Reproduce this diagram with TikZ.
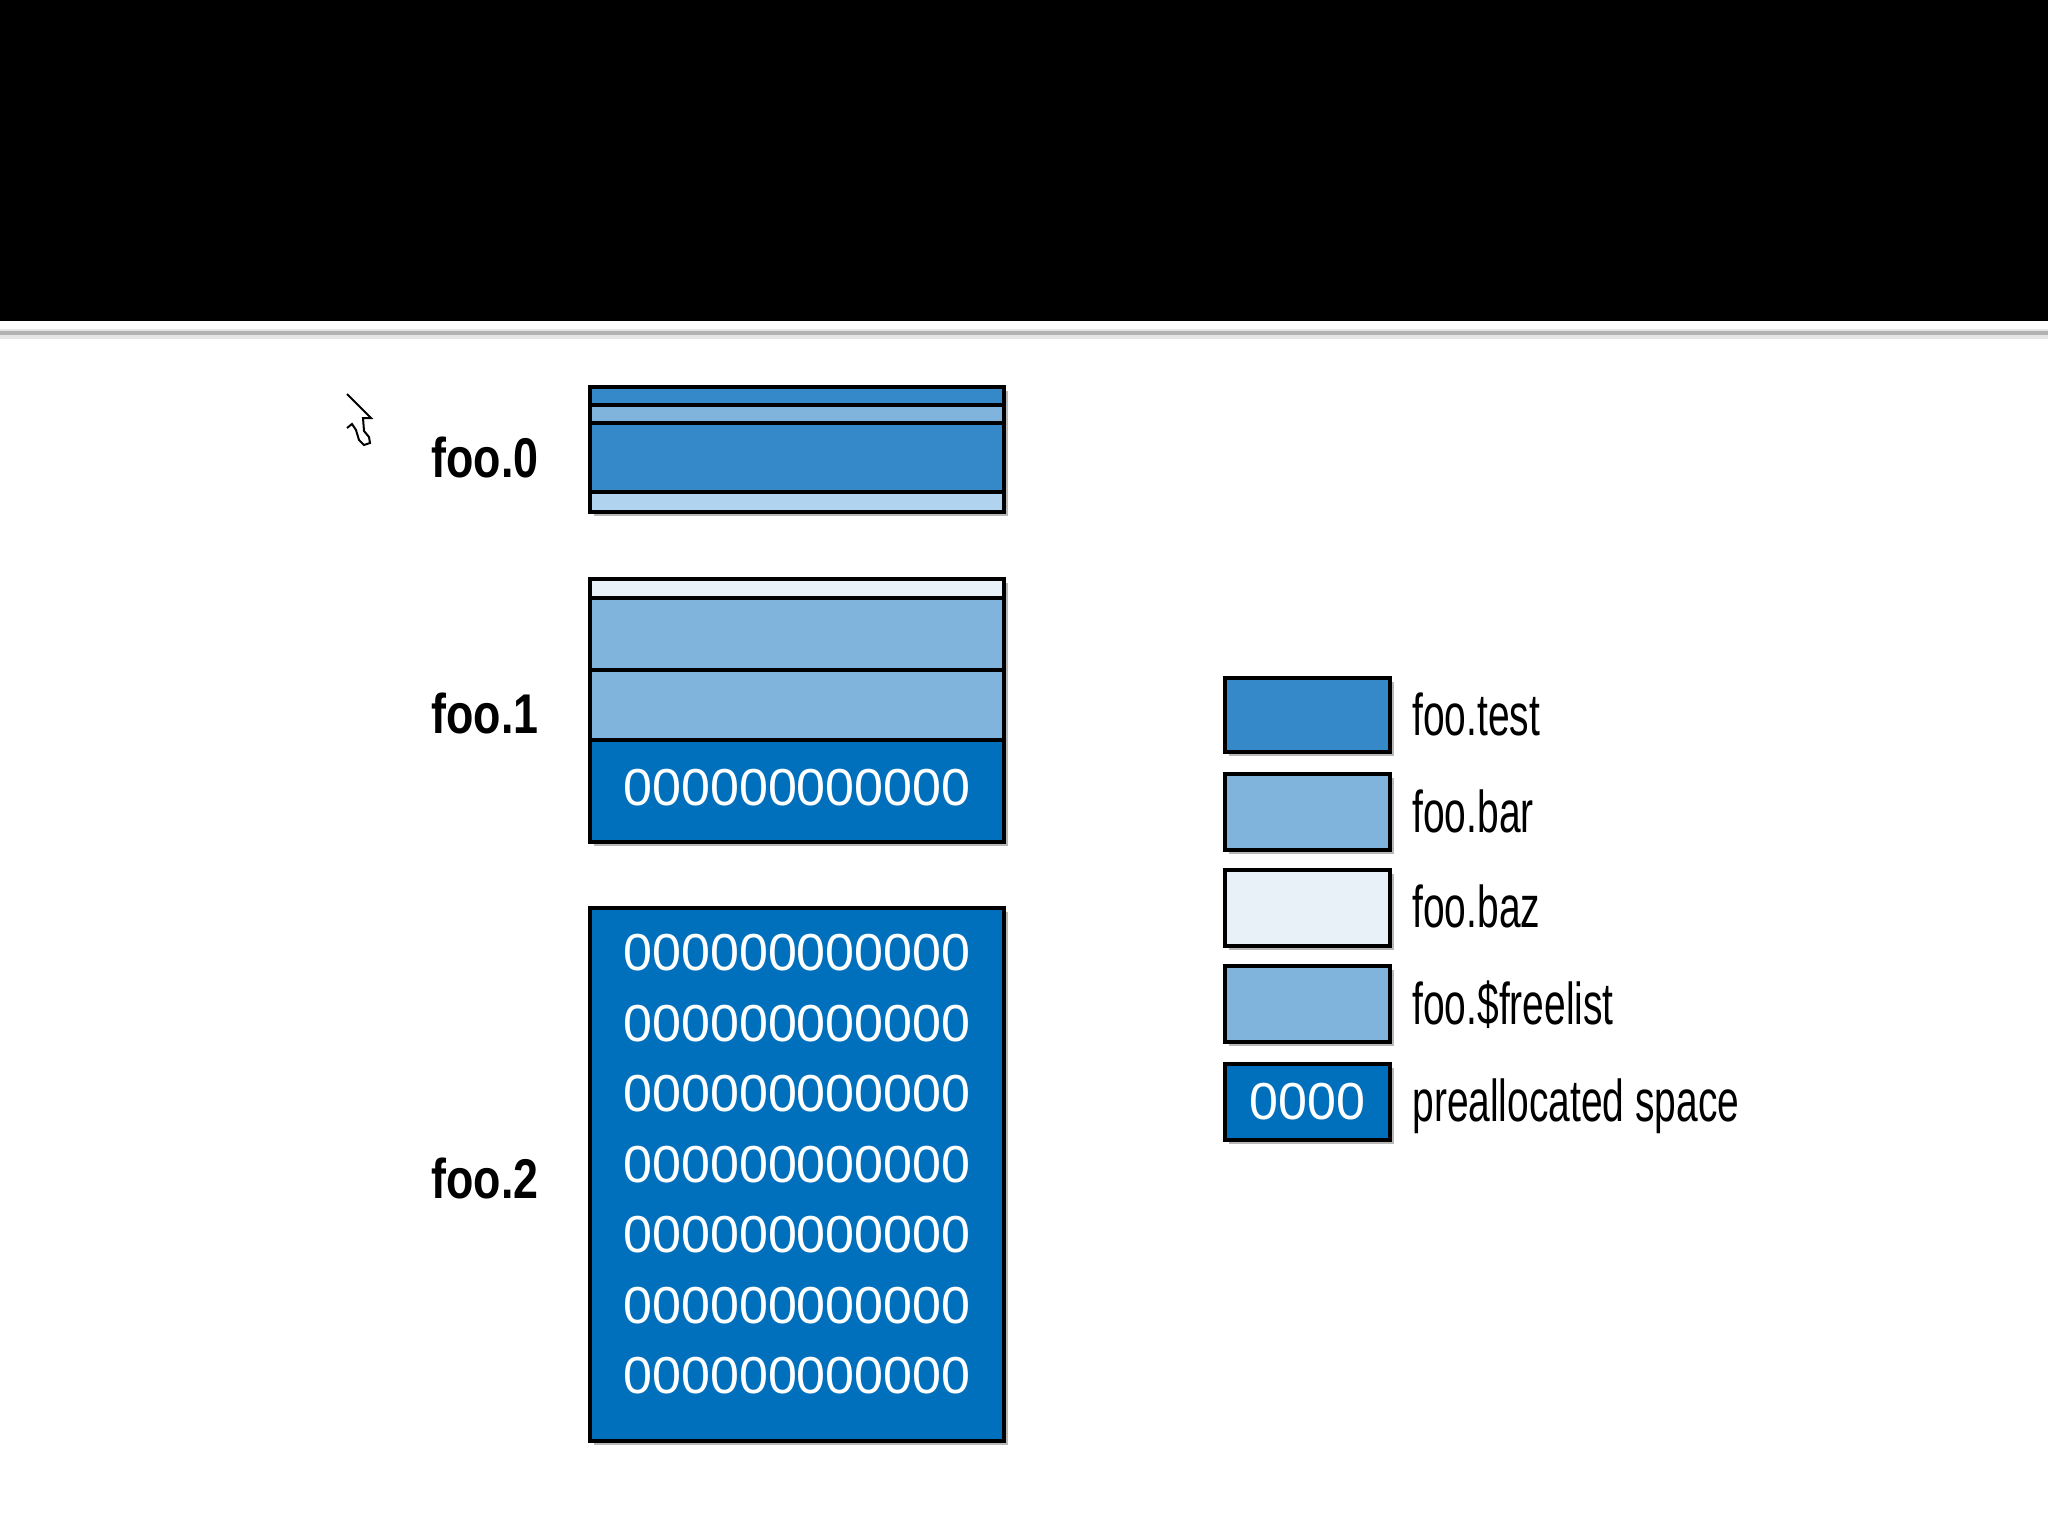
\documentclass[tikz,border=0pt]{standalone}
\usepackage{fontspec}
\setmainfont{Liberation Sans}
\newfontfamily\labfont[FakeStretch=0.8]{Liberation Sans}
\newfontfamily\legfont[FakeStretch=0.66]{Liberation Sans}
\newfontfamily\zerofont[FakeStretch=1.0]{Liberation Sans}
\definecolor{ctest}{HTML}{3589C9}
\definecolor{cbar}{HTML}{80B4DC}
\definecolor{cbaz}{HTML}{E8F0F8}
\definecolor{cpre}{HTML}{0070BD}
\definecolor{clight}{HTML}{B0D4F0}
\definecolor{cshadow}{HTML}{B8B8B8}
\tikzset{
  band/.style={draw=black, line width=1.8pt},
  outerbox/.style={draw=black, line width=2.1pt},
  shadowbox/.style={fill=cshadow},
  filelabel/.style={font=\labfont\bfseries\fontsize{28}{30}\selectfont, anchor=west, inner sep=0pt},
  legendtext/.style={font=\legfont\fontsize{29.5}{31}\selectfont, anchor=base west, inner sep=0pt},
  zeros/.style={font=\zerofont\fontsize{26}{28}\selectfont, text=white, inner sep=0pt},
}
\begin{document}
\begin{tikzpicture}[x=0.5pt,y=-0.5pt]
\useasboundingbox (0,0) rectangle (2048,1536);
\fill[white] (0,0) rectangle (2048,1536);
% title band
\fill[black] (0,0) rectangle (2048,321);
\fill[gray!20] (0,329) rectangle (2048,339);
\fill[gray!60] (0,331) rectangle (2048,335);

% cursor
\draw[line width=1pt, line join=miter] (347,394) -- (371,418) -- (363,418) -- (364,431) -- (369,437) -- (370,443) -- (364,445) -- (359,440) -- (356,430) -- (352,424) -- (347,428);

% ---------- foo.0 ----------
\fill[shadowbox] (594,391) rectangle (1008,516);
\filldraw[band, fill=ctest]  (590,387) rectangle (1004,405);
\filldraw[band, fill=cbar]   (590,405) rectangle (1004,423);
\filldraw[band, fill=ctest]  (590,423) rectangle (1004,492);
\filldraw[band, fill=clight] (590,492) rectangle (1004,512);
\draw[outerbox] (590,387) rectangle (1004,512);
\node[filelabel] (l0) at (431,457) {foo.0};

% ---------- foo.1 ----------
\fill[shadowbox] (594,583) rectangle (1008,846);
\filldraw[band, fill=cbaz] (590,579) rectangle (1004,598);
\filldraw[band, fill=cbar] (590,598) rectangle (1004,670);
\filldraw[band, fill=cbar] (590,670) rectangle (1004,740);
\filldraw[band, fill=cpre] (590,740) rectangle (1004,842);
\draw[outerbox] (590,579) rectangle (1004,842);
\node[zeros] (z1) at (797,788) {000000000000};
\node[filelabel] (l1) at (431,713) {foo.1};

% ---------- foo.2 ----------
\fill[shadowbox] (594,912) rectangle (1008,1445);
\filldraw[outerbox, fill=cpre] (590,908) rectangle (1004,1441);
\foreach \i in {0,...,6} {
  \node[zeros] (z2r\i) at (797,953+70.5*\i) {000000000000};
}
\node[filelabel] (l2) at (431,1178) {foo.2};

% ---------- legend ----------
\foreach \name/\col/\top/\bot in {ltest/ctest/678/752, lbar/cbar/774/850, lbaz/cbaz/870/946, lfree/cbar/966/1042, lpre/cpre/1064/1140} {
  \fill[shadowbox] (1229,\top+4) rectangle (1394,\bot+4);
  \filldraw[outerbox, fill=\col] (1225,\top) rectangle (1390,\bot);
}
\node[zeros] (lz) at (1307.5,1102) {0000};
\node[legendtext] (t1) at (1412,735)  {foo.test};
\node[legendtext] (t2) at (1412,832)  {foo.bar};
\node[legendtext] (t3) at (1412,927)  {foo.baz};
\node[legendtext] (t4) at (1412,1024) {foo.\$freelist};
\node[legendtext] (t5) at (1412,1121) {preallocated space};
\end{tikzpicture}
\end{document}
